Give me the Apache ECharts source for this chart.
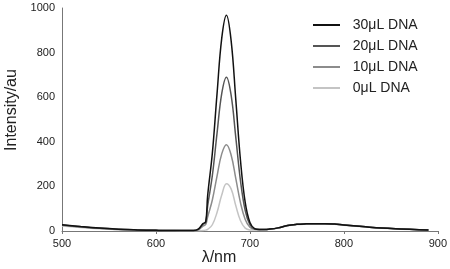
<!DOCTYPE html>
<html><head><meta charset="utf-8">
<script src="https://cdn.jsdelivr.net/npm/echarts@6/dist/echarts.min.js"></script>
<style>html,body{margin:0;padding:0;background:#fff}#c{width:450px;height:269px}</style>
</head><body><div id="c"></div>
<script>
const wavelengths = [500,520,540,560,580,600,620,640,645,650,653,655,660,665,670,675,680,685,690,695,700,705,710,715,720,730,740,750,760,770,780,790,800,820,840,860,880,890];
const dna30 = [28,20,13,8,5,3,2,2, 8,33,42,158,348,615,864,968,854,588,315,128,38,11,7,7,8, 14,25,30,32,33,33,31,27, 20,13,9,6,5];
const dna20 = [27,19,12,8,5,3,2,2, 7,30,38,112,248,438,616,690,609,419,224,92,28,9,7,7,8, 14,25,30,32,33,33,31,27, 20,13,9,6,5];
const dna10 = [26,18,12,7,5,3,2,2, 5,22,30,63,139,246,346,387,341,235,126,52,17,8,7,7,8, 14,25,30,32,33,33,31,27, 20,13,9,6,5];
const dna0  = [22,16,10,6,4,3,2,1, 1,2,4,7,28,83,161,212,189,113,46,13,5,4,5,6,7, 13,24,29,31,32,32,30,26, 19,12,8,5,4];
const seriesNames = ['30μL DNA','20μL DNA','10μL DNA','0μL DNA'];
const xTicks = [500,600,700,800,900];
const yTicks = [0,200,400,600,800,1000];

const font = 'Liberation Sans, Arial, sans-serif';
const colors = ['#111111','#555555','#8c8c8c','#c4c4c4'];
const values = [dna30, dna20, dna10, dna0];
const pair = v => wavelengths.map((w,i)=>[w, v[i]]);

const series = [];
for (let k = 3; k >= 0; k--) {
  series.push({
    name: seriesNames[k], type:'line', data: pair(values[k]),
    smooth: 0.4, symbol:'none', z: 10 - k,
    lineStyle:{color: colors[k], width: 1.5}, itemStyle:{color: colors[k]}
  });
}

const chart = echarts.init(document.getElementById('c'), null, {renderer:'canvas'});
chart.setOption({
  animation:false,
  backgroundColor:'#fff',
  grid:{left:62, right:12, top:8, bottom:38, containLabel:false},
  xAxis:{type:'value', min:xTicks[0], max:xTicks[xTicks.length-1], interval:100,
    axisLine:{lineStyle:{color:'#777', width:1}},
    axisTick:{show:true, length:3, lineStyle:{color:'#777'}},
    splitLine:{show:false},
    axisLabel:{color:'#222', fontSize:11, fontFamily:font, margin:7}},
  yAxis:{type:'value', min:yTicks[0], max:yTicks[yTicks.length-1], interval:200,
    axisLine:{show:true, lineStyle:{color:'#777', width:1}},
    axisTick:{show:false},
    splitLine:{show:false},
    axisLabel:{color:'#222', fontSize:11, fontFamily:font, margin:7, formatter: v => String(v)}},
  legend:{data: seriesNames, orient:'vertical', left:313, top:18, padding:0,
    icon:'rect', itemWidth:27, itemHeight:2, itemGap:7,
    formatter: n => '  ' + n,
    textStyle:{color:'#222', fontSize:14, fontFamily:font, lineHeight:14}},
  graphic:[
    {type:'text', x:12, y:110, rotation:Math.PI/2,
      style:{text:'Intensity/au', fontSize:16, fontFamily:font, fill:'#222', textAlign:'center', textVerticalAlign:'middle'}},
    {type:'text', x:219, y:258,
      style:{text:'λ/nm', fontSize:16, fontFamily:font, fill:'#222', textAlign:'center', textVerticalAlign:'middle'}}
  ],
  series: series
});
</script></body></html>
